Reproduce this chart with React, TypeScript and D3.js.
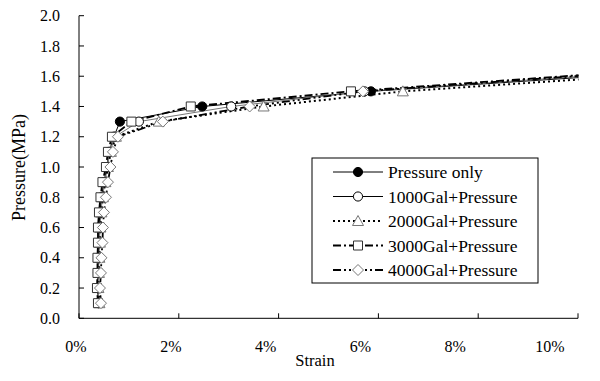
import React from "react";
import * as d3 from "d3";

const pressures = [0.1, 0.2, 0.3, 0.4, 0.5, 0.6, 0.7, 0.8, 0.9, 1.0, 1.1, 1.2, 1.3, 1.4, 1.5, 1.7];
const strainPressureOnly = [0.39, 0.37, 0.38, 0.39, 0.40, 0.40, 0.42, 0.45, 0.50, 0.56, 0.60, 0.70, 0.82, 2.47, 5.85, 15.0];
const strain1000 = [0.40, 0.38, 0.39, 0.40, 0.41, 0.42, 0.44, 0.47, 0.52, 0.57, 0.62, 0.72, 1.20, 3.05, 5.72, 14.5];
const strain2000 = [0.41, 0.39, 0.40, 0.41, 0.42, 0.43, 0.45, 0.48, 0.53, 0.58, 0.64, 0.74, 1.60, 3.70, 6.49, 15.5];
const strain3000 = [0.38, 0.36, 0.37, 0.37, 0.38, 0.38, 0.40, 0.43, 0.47, 0.54, 0.58, 0.66, 1.05, 2.24, 5.45, 14.0];
const strain4000 = [0.44, 0.42, 0.44, 0.45, 0.47, 0.48, 0.50, 0.54, 0.58, 0.63, 0.68, 0.78, 1.68, 3.42, 5.69, 14.2];

const seriesNames = ["Pressure only", "1000Gal+Pressure", "2000Gal+Pressure", "3000Gal+Pressure", "4000Gal+Pressure"];
const seriesStrains = [strainPressureOnly, strain1000, strain2000, strain3000, strain4000];
const xTicks = [0, 2, 4, 6, 8, 10];
const yTicks = [0, 0.2, 0.4, 0.6, 0.8, 1.0, 1.2, 1.4, 1.6, 1.8, 2.0];

const styles = [
  { stroke: "#000", width: 1, dash: "", marker: "circle", mFill: "#000", mStroke: "#000" },
  { stroke: "#777", width: 1, dash: "", marker: "circle", mFill: "#fff", mStroke: "#000" },
  { stroke: "#000", width: 2, dash: "2,3", marker: "triangle", mFill: "#fff", mStroke: "#777" },
  { stroke: "#000", width: 1.8, dash: "8,3,2,3", marker: "square", mFill: "#fff", mStroke: "#333" },
  { stroke: "#000", width: 1.8, dash: "8,3,2,3,2,3", marker: "diamond", mFill: "#fff", mStroke: "#777" },
];

const W = 600, H = 381;
const x = d3.scaleLinear().domain([0, 10]).range([79, 578]);
const xLabel = d3.scaleLinear().domain([0, 10]).range([76, 550]);
const y = d3.scaleLinear().domain([0, 2]).range([318.3, 15.7]);

function markerPath(kind: string) {
  if (kind === "diamond") return "M0,-5.5L5.5,0L0,5.5L-5.5,0Z";
  if (kind === "triangle") return "M0,-5.5L5.5,4.5L-5.5,4.5Z";
  const map: Record<string, [d3.SymbolType, number]> = {
    circle: [d3.symbolCircle, 66],
    square: [d3.symbolSquare, 81],
  };
  const [t, s] = map[kind];
  return d3.symbol().type(t).size(s)() as string;
}

const font = "'Liberation Serif', 'Times New Roman', serif";

export default function App() {
  const line = d3.line<[number, number]>().x((d) => x(d[0])).y((d) => y(d[1]));
  const legendX = 312, legendY = 158, legendW = 226, legendH = 125;
  const rowYs = [172, 196.5, 221, 245.5, 270];
  const tick = { fontFamily: font, fontSize: "16px" };
  const leg = { fontFamily: font, fontSize: "17.5px" };
  return (
    <svg width={W} height={H} style={{ position: "absolute", left: 0, top: 0, background: "#fff" }}>
      <defs>
        <clipPath id="plot">
          <rect x={79} y={0} width={499.5} height={320} />
        </clipPath>
      </defs>
      <line x1={79} x2={79} y1={y(2)} y2={y(0)} stroke="#000" strokeWidth={1} />
      <line x1={79} x2={x(10)} y1={y(0)} y2={y(0)} stroke="#000" strokeWidth={1} />
      {yTicks.map((t) => (
        <g key={"y" + t}>
          <line x1={79} x2={84} y1={y(t)} y2={y(t)} stroke="#000" />
          <text x={60} y={y(t)} dy="0.35em" textAnchor="end" style={tick}>{t.toFixed(1)}</text>
        </g>
      ))}
      {xTicks.map((t) => (
        <g key={"x" + t}>
          <line x1={x(t)} x2={x(t)} y1={y(0)} y2={y(0) - 5} stroke="#000" />
          <text x={xLabel(t)} y={352} textAnchor="middle" style={tick}>{t + "%"}</text>
        </g>
      ))}
      <text x={315} y={366} textAnchor="middle" style={{ fontFamily: font, fontSize: "16.5px" }}>Strain</text>
      <text transform={`translate(25,${167.5}) rotate(-90)`} textAnchor="middle" style={{ fontFamily: font, fontSize: "18px" }}>Pressure(MPa)</text>
      <g clipPath="url(#plot)">
        {seriesStrains.map((s, i) => {
          const pts = s.map((v, j) => [v, pressures[j]] as [number, number]);
          const st = styles[i];
          return (
            <path key={"l" + i} d={line(pts) as string} fill="none" stroke={st.stroke} strokeWidth={st.width} strokeDasharray={st.dash} />
          );
        })}
        {seriesStrains.map((s, i) => {
          const st = styles[i];
          const p = markerPath(st.marker);
          return (
            <g key={"m" + i}>
              {s.map((v, j) =>
                v <= 10 ? (
                  <path key={j} d={p} transform={`translate(${x(v)},${y(pressures[j])})`} fill={st.mFill} stroke={st.mStroke} strokeWidth={1} />
                ) : null
              )}
            </g>
          );
        })}
      </g>
      <rect x={legendX} y={legendY} width={legendW} height={legendH} fill="#fff" stroke="#000" strokeWidth={1} />
      {seriesNames.map((n, i) => {
        const st = styles[i];
        const ry = rowYs[i];
        return (
          <g key={"lg" + i}>
            <line x1={333} x2={383} y1={ry} y2={ry} stroke={i === 1 ? "#000" : st.stroke} strokeWidth={st.width} strokeDasharray={st.dash} />
            <path d={markerPath(st.marker)} transform={`translate(358,${ry})`} fill={st.mFill} stroke={st.mStroke} strokeWidth={1} />
            <text x={388} y={ry} dy="0.35em" style={leg}>{n}</text>
          </g>
        );
      })}
    </svg>
  );
}
